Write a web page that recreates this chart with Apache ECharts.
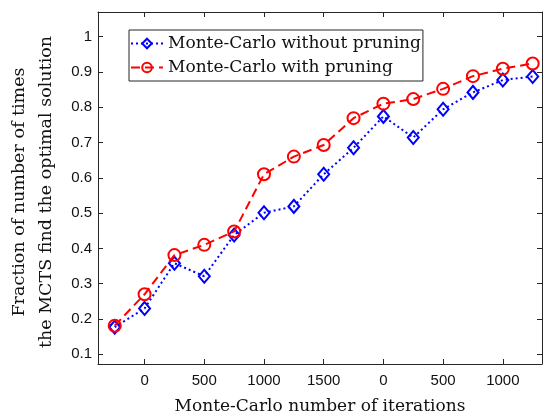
<!DOCTYPE html>
<html>
<head>
<meta charset="utf-8">
<script src="https://cdn.jsdelivr.net/npm/echarts@6/dist/echarts.min.js"></script>
<style>
html,body{margin:0;padding:0;background:#fff;}
#chart{width:544px;height:419px;}
</style>
</head>
<body>
<div id="chart"></div>
<script>
// Data
var iterations = [-250, 0, 250, 500, 750, 1000, 1250, 1500, 1750, 2000, 2250, 2500, 2750, 3000, 3250];
var withoutPruning = [0.177, 0.230, 0.358, 0.321, 0.438, 0.501, 0.519, 0.610, 0.685, 0.774, 0.714, 0.794, 0.842, 0.877, 0.887];
var withPruning = [0.181, 0.270, 0.381, 0.410, 0.448, 0.610, 0.660, 0.693, 0.769, 0.810, 0.823, 0.852, 0.888, 0.909, 0.924];
var xTickValues = [0, 500, 1000, 1500, 2000, 2500, 3000];
var xTickLabels = ['0', '500', '1000', '1500', '0', '500', '1000'];
var yTickValues = [0.1, 0.2, 0.3, 0.4, 0.5, 0.6, 0.7, 0.8, 0.9, 1];
var yTickLabels = ['0.1', '0.2', '0.3', '0.4', '0.5', '0.6', '0.7', '0.8', '0.9', '1'];
var seriesNames = ['Monte-Carlo without pruning', 'Monte-Carlo with pruning'];

function pairs(xs, ys) { return xs.map(function (x, i) { return [x, ys[i]]; }); }

var axisColor = '#262626';
var serif = 'DejaVu Serif';
var sans = 'Liberation Sans';
var xMin = -390, xMax = 3328, yMin = 0.0725, yMax = 1.0697;

var chart = echarts.init(document.getElementById('chart'), null, {renderer: 'canvas'});
chart.setOption({
  animation: false,
  backgroundColor: '#fff',
  grid: {left: 98, right: 2, top: 12, bottom: 55, containLabel: false, outerBoundsMode: 'none'},
  legend: {
    orient: 'vertical',
    left: 129, top: 30,
    padding: [5, 2, 5, 1],
    itemGap: 7,
    itemWidth: 32, itemHeight: 12,
    backgroundColor: '#fff',
    borderColor: axisColor, borderWidth: 1, borderRadius: 0,
    textStyle: {fontFamily: serif, fontSize: 17, color: '#111'},
    data: seriesNames
  },
  xAxis: [{
    type: 'value', min: xMin, max: xMax, position: 'bottom',
    name: 'Monte-Carlo number of iterations', nameLocation: 'middle', nameGap: 34,
    nameTextStyle: {fontFamily: serif, fontSize: 17, color: '#111'},
    axisLine: {show: true, onZero: false, lineStyle: {color: axisColor, width: 1}},
    axisTick: {show: true, inside: true, length: 5, customValues: xTickValues, lineStyle: {color: axisColor}},
    axisLabel: {show: true, customValues: xTickValues, margin: 9, fontFamily: sans, fontSize: 15, color: '#111',
      formatter: function (v) { var k = xTickValues.indexOf(v); return k >= 0 ? xTickLabels[k] : ''; }},
    splitLine: {show: false}
  }, {
    type: 'value', min: xMin, max: xMax, position: 'top',
    axisLine: {show: true, onZero: false, lineStyle: {color: axisColor, width: 1}},
    axisTick: {show: true, inside: true, length: 5, customValues: xTickValues, lineStyle: {color: axisColor}},
    axisLabel: {show: false},
    splitLine: {show: false}
  }],
  yAxis: [{
    type: 'value', min: yMin, max: yMax, position: 'left',
    name: 'Fraction of number of times\nthe MCTS find the optimal solution',
    nameLocation: 'middle', nameRotate: 90, nameGap: 34,
    nameTextStyle: {fontFamily: serif, fontSize: 17.5, color: '#111', lineHeight: 27, padding: [0, 8, 0, 0]},
    axisLine: {show: true, onZero: false, lineStyle: {color: axisColor, width: 1}},
    axisTick: {show: true, inside: true, length: 5, customValues: yTickValues, lineStyle: {color: axisColor}},
    axisLabel: {show: true, customValues: yTickValues, margin: 6, fontFamily: sans, fontSize: 15, color: '#111',
      formatter: function (v) { for (var k = 0; k < yTickValues.length; k++) { if (Math.abs(yTickValues[k] - v) < 1e-9) return yTickLabels[k]; } return ''; }},
    splitLine: {show: false}
  }, {
    type: 'value', min: yMin, max: yMax, position: 'right',
    axisLine: {show: true, onZero: false, lineStyle: {color: axisColor, width: 1}},
    axisTick: {show: true, inside: true, length: 5, customValues: yTickValues, lineStyle: {color: axisColor}},
    axisLabel: {show: false},
    splitLine: {show: false}
  }],
  series: [{
    name: seriesNames[0], type: 'line',
    data: pairs(iterations, withoutPruning),
    symbol: 'diamond', symbolSize: [11, 13],
    color: '#0000ff',
    itemStyle: {color: 'rgba(0,0,0,0)', borderColor: '#0000ff', borderWidth: 2},
    lineStyle: {color: '#0000ff', width: 2, type: [2, 3]},
    z: 2
  }, {
    name: seriesNames[1], type: 'line',
    data: pairs(iterations, withPruning),
    symbol: 'circle', symbolSize: 12,
    color: '#ff0000',
    itemStyle: {color: 'rgba(0,0,0,0)', borderColor: '#ff0000', borderWidth: 2},
    lineStyle: {color: '#ff0000', width: 2, type: [9, 5]},
    z: 3
  }]
});
</script>
</body>
</html>
